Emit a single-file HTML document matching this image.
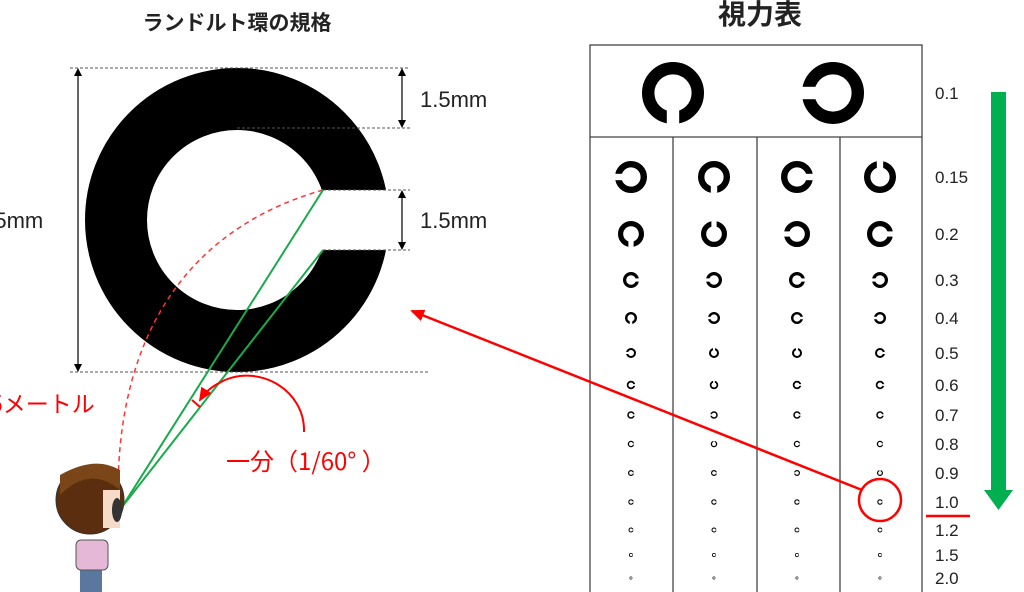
<!DOCTYPE html>
<html><head><meta charset="utf-8"><style>
html,body{margin:0;padding:0;background:#fff;width:1024px;height:592px;overflow:hidden}
svg{display:block}
text{font-family:"Liberation Sans","Noto Sans CJK JP",sans-serif}
</style></head><body>
<svg id="s" width="1024" height="592" viewBox="0 0 1024 592" xmlns="http://www.w3.org/2000/svg">
<defs>
<marker id="rh" markerWidth="14" markerHeight="12" refX="12" refY="6" orient="auto" markerUnits="userSpaceOnUse"><path d="M0,0 L14,6 L0,12 Z" fill="#f00"/></marker>
</defs>
<text x="237" y="30" font-size="21" font-weight="bold" text-anchor="middle" fill="#222" style="font-family:'Noto Sans CJK JP',sans-serif">ランドルト環の規格</text>
<text x="760" y="24" font-size="28" font-weight="bold" text-anchor="middle" fill="#222" style="font-family:'Noto Sans CJK JP',sans-serif">視力表</text>
<circle cx="237" cy="220" r="121" fill="none" stroke="#000" stroke-width="62"/>
<rect x="300" y="190" width="95" height="60" fill="#fff"/>
<g stroke="#555" stroke-width="1" stroke-dasharray="3,2">
<line x1="70" y1="68" x2="410" y2="68"/>
<line x1="237" y1="128" x2="410" y2="128"/>
<line x1="323" y1="190" x2="410" y2="190"/>
<line x1="323" y1="250" x2="410" y2="250"/>
<line x1="70" y1="372" x2="430" y2="372"/>
</g>
<g stroke="#000" stroke-width="1.2">
<line x1="78" y1="74" x2="78" y2="366"/>
<line x1="402" y1="74" x2="402" y2="122"/>
<line x1="402" y1="196" x2="402" y2="244"/>
</g>
<path d="M74,76 L78,68 L82,76Z M74,364 L78,372 L82,364Z M398,76 L402,68 L406,76Z M398,120 L402,128 L406,120Z M398,198 L402,190 L406,198Z M398,242 L402,250 L406,242Z" fill="#000"/>
<text x="420" y="107" font-size="22" fill="#222">1.5mm</text>
<text x="420" y="228" font-size="22" fill="#222">1.5mm</text>
<text x="-24" y="228" font-size="22" fill="#222">7.5mm</text>
<path d="M323,190 C200,225 118,320 118,493" fill="none" stroke="#f33" stroke-width="1.5" stroke-dasharray="5,4"/>
<g stroke="#1aaa4a" stroke-width="2"><line x1="122" y1="507" x2="323" y2="190"/><line x1="122" y1="507" x2="323" y2="250"/></g>
<text x="-10" y="412" font-size="23" fill="#f00" style="font-family:'Noto Sans CJK JP',sans-serif">5メートル</text>
<path d="M304,432 C305,390 260,365 225,380 C212,386 205,392 200,400" fill="none" stroke="#f00" stroke-width="2" marker-end="url(#rh)"/>
<line x1="192" y1="400" x2="200" y2="407" stroke="#f00" stroke-width="2"/>
<text x="226" y="470" font-size="24" fill="#f00" style="font-family:'Noto Sans CJK JP',sans-serif">一分（1/60°  ）</text>
<!-- person -->
<rect x="80" y="560" width="22" height="32" fill="#5a77a0"/>
<rect x="76" y="540" width="32" height="30" rx="5" fill="#e4b8d6" stroke="#555" stroke-width="1"/>
<circle cx="90" cy="500" r="34" fill="#5a2e0e" stroke="#333"/>
<path d="M60,495 Q90,465 120,490 L120,470 Q95,455 60,475Z" fill="#7a4618"/>
<rect x="103" y="490" width="17" height="38" fill="#f6dcc8"/>
<ellipse cx="117" cy="510" rx="5" ry="12" fill="#333"/>
<g stroke="#444" stroke-width="1.3" fill="none">
<rect x="590" y="45" width="332" height="560"/>
<line x1="590" y1="137" x2="922" y2="137"/>
<line x1="673" y1="137" x2="673" y2="592"/>
<line x1="757" y1="137" x2="757" y2="592"/>
<line x1="840" y1="137" x2="840" y2="592"/>
</g>
<g id="cs"></g>
<g font-size="17" fill="#222">
<text x="935" y="99">0.1</text><text x="935" y="183">0.15</text><text x="935" y="240">0.2</text>
<text x="935" y="286">0.3</text><text x="935" y="324">0.4</text><text x="935" y="359">0.5</text>
<text x="935" y="391">0.6</text><text x="935" y="421">0.7</text><text x="935" y="450">0.8</text>
<text x="935" y="479">0.9</text><text x="935" y="508">1.0</text><text x="935" y="536">1.2</text>
<text x="935" y="561">1.5</text><text x="935" y="584">2.0</text>
</g>
<rect x="991" y="92" width="15" height="400" fill="#00b050"/>
<path d="M984,490 L1013,490 L998.5,510Z" fill="#00b050"/>
<circle cx="880" cy="500" r="21" fill="none" stroke="#f00" stroke-width="2.5"/>
<line x1="926" y1="516" x2="970" y2="516" stroke="#f00" stroke-width="2.5"/>
<line x1="862" y1="490" x2="412" y2="311" stroke="#f00" stroke-width="2.5" marker-end="url(#rh)"/>
</svg>
<script>
var g=document.getElementById('cs'),ns='http://www.w3.org/2000/svg';
function C(cx,cy,d,o){var w=d/5,r=(d-w)/2;var c=document.createElementNS(ns,'circle');c.setAttribute('cx',cx);c.setAttribute('cy',cy);c.setAttribute('r',r);c.setAttribute('fill','none');c.setAttribute('stroke','#000');c.setAttribute('stroke-width',w);g.appendChild(c);
var R=document.createElementNS(ns,'rect');var h=d/2+1;var x,y,W,H;
if(o=='r'){x=cx;y=cy-w/2;W=h;H=w}else if(o=='l'){x=cx-h;y=cy-w/2;W=h;H=w}else if(o=='d'){x=cx-w/2;y=cy;W=w;H=h}else{x=cx-w/2;y=cy-h;W=w;H=h}
R.setAttribute('x',x);R.setAttribute('y',y);R.setAttribute('width',W);R.setAttribute('height',H);R.setAttribute('fill','#fff');g.appendChild(R);}
C(673,93,62,'d');C(833,93,62,'l');
var cols=[631,714,797,880];
var rows=[[177,32,'ldru'],[234,26,'dulr'],[280,16,'rlrl'],[318,12,'dlrl'],[353,10,'luur'],[385,8.5,'rurr'],[415,7.5,'rlrr'],[444,6.5,'rurr'],[473,6,'rrlu'],[502,5.5,'rrrr'],[530,5,'rrrr'],[555,4,'rrrr'],[578,3,'rrrr']];
rows.forEach(function(rw){for(var i=0;i<4;i++)C(cols[i],rw[0],rw[1],rw[2][i]);});
</script>
</body></html>
